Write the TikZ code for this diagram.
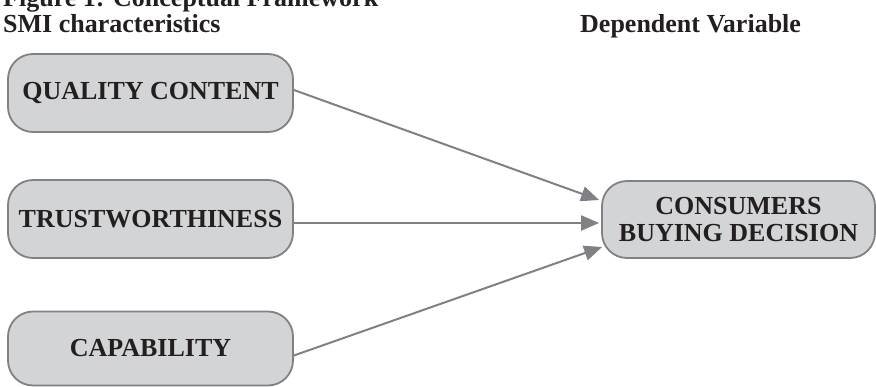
\documentclass[tikz,border=0pt]{standalone}
\usepackage{fontspec}
\setmainfont{Liberation Serif}
\usetikzlibrary{arrows.meta,calc}
\definecolor{boxfill}{HTML}{D3D4D6}
\definecolor{boxline}{HTML}{808184}
\definecolor{ink}{HTML}{231F20}
\begin{document}
\begin{tikzpicture}[x=1pt,y=-1pt,
  varbox/.style={draw=boxline, fill=boxfill, line width=1.8pt, rounded corners=25pt,
    inner sep=0pt, align=center, text=ink,
    font=\bfseries\fontsize{26}{27}\selectfont},
  hdr/.style={anchor=base west, inner sep=0pt, text=ink, font=\bfseries\fontsize{26}{27}\selectfont},
  link/.style={draw=boxline, line width=2pt, -{Triangle[length=18pt,width=15pt]}}]
\useasboundingbox (0,0) rectangle (876,386);
\node[hdr] (title) at (3,6) {Figure 1: Conceptual Framework};
\node[hdr] (left) at (3,32) {SMI characteristics};
\node[hdr] (right) at (580,32) {Dependent Variable};
\node[varbox, minimum width=285pt, minimum height=78pt] (q) at (150.5,93) {QUALITY CONTENT};
\node[varbox, minimum width=285pt, minimum height=78pt] (t) at (150.5,219) {TRUSTWORTHINESS};
\node[varbox, minimum width=285pt, minimum height=74pt] (k) at (150.5,348.5) {CAPABILITY};
\node[varbox, minimum width=273pt, minimum height=77pt] (c) at (738.5,219.5) {CONSUMERS\\BUYING DECISION};
\coordinate (s1) at ($(q.east)+(0,-3)$);
\coordinate (s2) at ($(t.east)+(0,4)$);
\coordinate (s3) at ($(k.east)+(0,7)$);
\coordinate (e1) at ($(c.west)+(-2,-19.5)$);
\coordinate (e2) at ($(c.west)+(-2,3.5)$);
\coordinate (e3) at ($(c.west)+(1,27.5)$);
\draw[link] (s1) -- (e1);
\draw[link] (s2) -- (e2);
\draw[link] (s3) -- (e3);
\end{tikzpicture}
\end{document}
